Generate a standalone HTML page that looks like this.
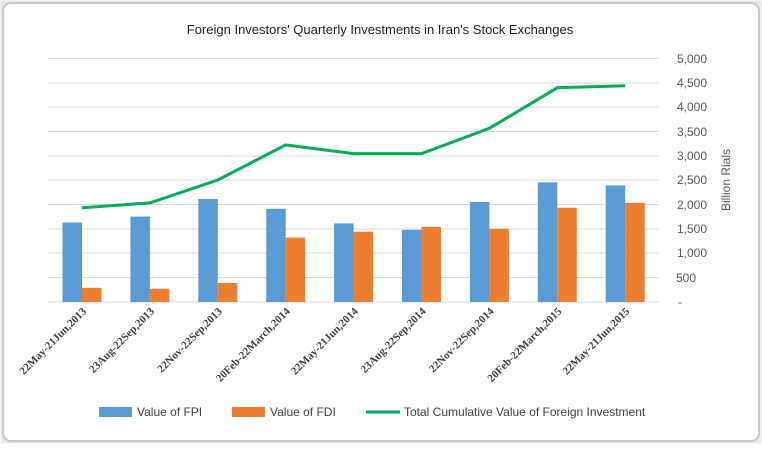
<!DOCTYPE html><html><head><style>body{margin:0;background:#fff}</style></head><body>
<svg width="762" height="444" xmlns="http://www.w3.org/2000/svg" font-family="Liberation Sans, sans-serif">
<rect x="0.5" y="0.5" width="761" height="443" fill="#e8e8e8"/>
<rect x="3" y="3" width="756" height="438" rx="8" fill="#fff" stroke="#c8c8c8" stroke-width="2"/>
<text x="380" y="34" font-size="13" text-anchor="middle" fill="#222">Foreign Investors' Quarterly Investments in Iran's Stock Exchanges</text>
<g stroke="#d9d9d9" stroke-width="1">
<line x1="48" x2="659" y1="58.5" y2="58.5"/><line x1="48" x2="659" y1="83" y2="83"/><line x1="48" x2="659" y1="107" y2="107"/><line x1="48" x2="659" y1="131.5" y2="131.5"/><line x1="48" x2="659" y1="156" y2="156"/><line x1="48" x2="659" y1="180" y2="180"/><line x1="48" x2="659" y1="204.5" y2="204.5"/><line x1="48" x2="659" y1="229" y2="229"/><line x1="48" x2="659" y1="253" y2="253"/><line x1="48" x2="659" y1="277.5" y2="277.5"/><line x1="48" x2="659" y1="302" y2="302"/>
</g>
<g font-size="12" fill="#595959" text-anchor="end">
<text x="707" y="63">5,000</text><text x="707" y="87">4,500</text><text x="707" y="111">4,000</text><text x="707" y="136">3,500</text><text x="707" y="160">3,000</text><text x="707" y="184">2,500</text><text x="707" y="209">2,000</text><text x="707" y="233">1,500</text><text x="707" y="257">1,000</text><text x="696" y="282">500</text><text x="682" y="306">-</text>
</g>
<text transform="translate(730,180) rotate(-90)" font-size="12" fill="#595959" text-anchor="middle">Billion Rials</text>
<g fill="#5b9bd5">
<rect x="62.5" y="222.5" width="19.5" height="79.5"/>
<rect x="130.4" y="216.6" width="19.5" height="85.4"/>
<rect x="198.3" y="199" width="19.5" height="103"/>
<rect x="266.2" y="208.8" width="19.5" height="93.2"/>
<rect x="334.1" y="223.4" width="19.5" height="78.6"/>
<rect x="402" y="229.8" width="19.5" height="72.2"/>
<rect x="469.9" y="202" width="19.5" height="100"/>
<rect x="537.8" y="182.4" width="19.5" height="119.6"/>
<rect x="605.7" y="185.4" width="19.5" height="116.6"/>
</g>
<g fill="#ed7d31">
<rect x="82" y="287.8" width="19.5" height="14.2"/>
<rect x="149.9" y="288.8" width="19.5" height="13.2"/>
<rect x="217.8" y="283" width="19.5" height="19"/>
<rect x="285.7" y="237.6" width="19.5" height="64.4"/>
<rect x="353.6" y="231.7" width="19.5" height="70.3"/>
<rect x="421.5" y="226.8" width="19.5" height="75.2"/>
<rect x="489.4" y="228.8" width="19.5" height="73.2"/>
<rect x="557.3" y="207.8" width="19.5" height="94.2"/>
<rect x="625.2" y="202.9" width="19.5" height="99.1"/>
</g>
<polyline points="82,207.8 149.9,202.9 217.8,180 285.7,144.9 353.6,153.6 421.5,153.6 489.4,128.3 557.3,87.8 625.2,85.8" fill="none" stroke="#00b050" stroke-width="3"/>
<g font-family="Liberation Serif,serif" font-weight="bold" font-size="11" fill="#404040" text-anchor="end">
<text transform="translate(87,312) rotate(-45)">22May-21Jun,2013</text>
<text transform="translate(154.9,312) rotate(-45)">23Aug-22Sep,2013</text>
<text transform="translate(222.8,312) rotate(-45)">22Nov-22Sep,2013</text>
<text transform="translate(290.7,312) rotate(-45)">20Feb-22March,2014</text>
<text transform="translate(358.6,312) rotate(-45)">22May-21Jun,2014</text>
<text transform="translate(426.5,312) rotate(-45)">23Aug-22Sep,2014</text>
<text transform="translate(494.4,312) rotate(-45)">22Nov-22Sep,2014</text>
<text transform="translate(562.3,312) rotate(-45)">20Feb-22March,2015</text>
<text transform="translate(630.2,312) rotate(-45)">22May-21Jun,2015</text>
</g>
<rect x="99" y="407" width="33" height="10" fill="#5b9bd5"/><text x="137" y="416" font-size="12" fill="#404040">Value of FPI</text>
<rect x="232" y="407" width="33" height="10" fill="#ed7d31"/><text x="270" y="416" font-size="12" fill="#404040">Value of FDI</text>
<line x1="366" x2="400" y1="412" y2="412" stroke="#00b050" stroke-width="3"/><text x="404" y="416" font-size="12" fill="#404040">Total Cumulative Value of  Foreign Investment</text>
</svg></body></html>
